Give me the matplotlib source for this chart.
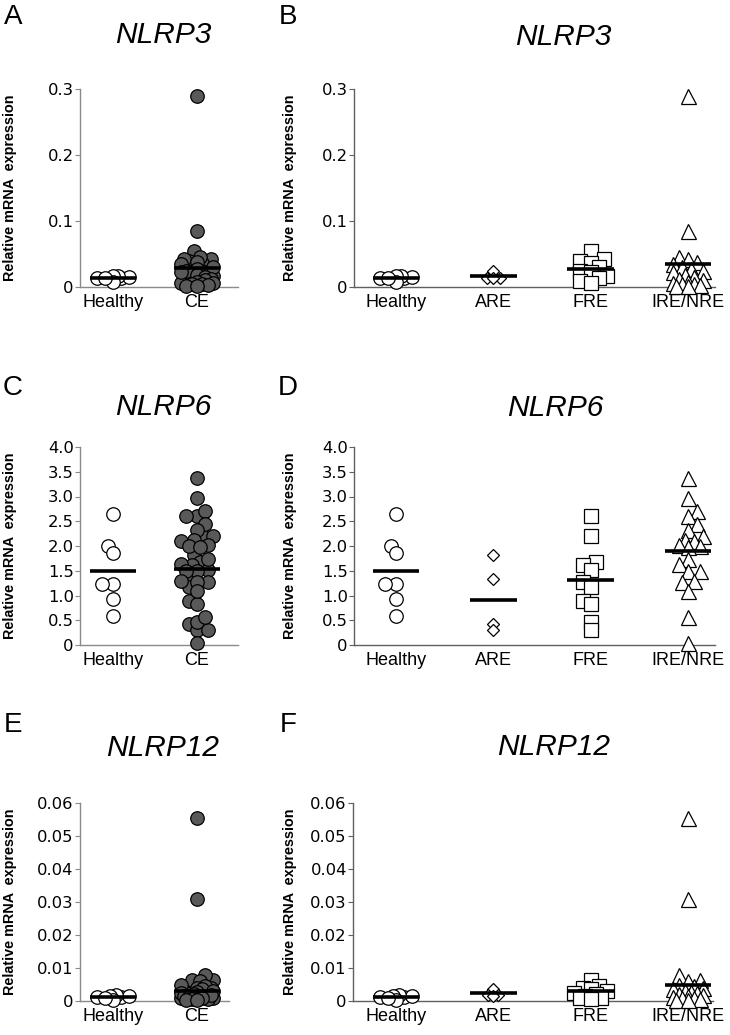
import numpy as np
import matplotlib
matplotlib.use("Agg")
from matplotlib import pyplot as plt

W, H = 730, 1035

# categories
groups_2 = ["Healthy", "CE"]
groups_4 = ["Healthy", "ARE", "FRE", "IRE/NRE"]

# NLRP3 relative expression
nlrp3_healthy = [0.014, 0.015, 0.017, 0.014, 0.016, 0.007, 0.013]
nlrp3_are = [0.025, 0.014, 0.014, 0.013]
nlrp3_fre = [0.055, 0.042, 0.040, 0.037, 0.030, 0.024, 0.022, 0.017, 0.014, 0.009, 0.006]
nlrp3_ire = [0.290, 0.085, 0.045, 0.042, 0.038, 0.035, 0.030, 0.028, 0.025, 0.022, 0.018,
             0.015, 0.012, 0.010, 0.008, 0.006, 0.005, 0.004, 0.003, 0.002, 0.001]
nlrp3_bar_2 = [0.0130, 0.029]
nlrp3_bar_4 = [0.0140, 0.0168, 0.028, 0.0356]
nlrp3_ticks = [0, 0.1, 0.2, 0.3]
nlrp3_ticklabels = ["0", "0.1", "0.2", "0.3"]

# NLRP6
nlrp6_healthy = [2.65, 2.0, 1.85, 1.23, 1.23, 0.93, 0.58]
nlrp6_are = [1.82, 1.33, 0.42, 0.30]
nlrp6_fre = [2.6, 2.2, 1.68, 1.62, 1.52, 1.28, 1.18, 0.88, 0.82, 0.47, 0.30]
nlrp6_ire = [3.38, 2.97, 2.7, 2.6, 2.45, 2.33, 2.2, 2.13, 2.1, 2.03, 2.0,
             1.97, 1.73, 1.63, 1.5, 1.5, 1.3, 1.27, 1.1, 0.57, 0.05]
nlrp6_bar_2 = [1.50, 1.53]
nlrp6_bar_4 = [1.49, 0.91, 1.31, 1.89]
nlrp6_ticks = [0, 0.5, 1.0, 1.5, 2.0, 2.5, 3.0, 3.5, 4.0]
nlrp6_ticklabels = ["0", "0.5", "1.0", "1.5", "2.0", "2.5", "3.0", "3.5", "4.0"]

# NLRP12
nlrp12_healthy = [0.0012, 0.0015, 0.0018, 0.0013, 0.0016, 0.0003, 0.0010]
nlrp12_are = [0.0036, 0.0019, 0.0019, 0.0014]
nlrp12_fre = [0.0065, 0.0045, 0.0040, 0.0035, 0.0030, 0.0025, 0.0020, 0.0015, 0.0010, 0.0008, 0.0005]
nlrp12_ire = [0.0555, 0.0308, 0.0080, 0.0065, 0.0060, 0.0050, 0.0045, 0.0040, 0.0035, 0.0030, 0.0028,
              0.0025, 0.0020, 0.0018, 0.0015, 0.0012, 0.0010, 0.0008, 0.0006, 0.0004, 0.0003]
nlrp12_bar_2 = [0.0013, 0.0031]
nlrp12_bar_4 = [0.0013, 0.0023, 0.0030, 0.0047]
nlrp12_ticks = [0, 0.01, 0.02, 0.03, 0.04, 0.05, 0.06]
nlrp12_ticklabels = ["0", "0.01", "0.02", "0.03", "0.04", "0.05", "0.06"]

genes = ["NLRP3", "NLRP6", "NLRP12"]
letters_left = ["A", "C", "E"]
letters_right = ["B", "D", "F"]


def px_rect(l, r, t, b):
    return [l / W, 1 - b / H, (r - l) / W, (b - t) / H]


def swarm_offsets(y_px, d, gap, max_w):
    # beeswarm limited to a band of +-max_w pixels; overlaps allowed when full
    placed = []
    offs = np.zeros(len(y_px))
    step = d * 0.2
    nmax = int(max_w / step)
    for n, i in enumerate(np.argsort(y_px)):
        cands = [0.0]
        for k in range(1, nmax + 1):
            pair = [k * step, -k * step]
            cands += pair if n % 2 == 0 else pair[::-1]
        best, best_d = 0.0, -1
        for c in cands:
            dmin = min([np.hypot(c - px, y_px[i] - py) for px, py in placed] or [1e9])
            if dmin >= gap * d:
                best = c
                break
            if dmin > best_d + 0.5:
                best, best_d = c, dmin
        offs[i] = best
        placed.append((best, y_px[i]))
    return offs


def draw_group(ax, pos, vals, ylim, h_px, x_px_unit, marker, ms_px, fc, gap=0.62, max_w=17):
    vals = np.asarray(vals)
    y_px = (vals - ylim[0]) / (ylim[1] - ylim[0]) * h_px
    offs = swarm_offsets(y_px, ms_px, gap, max_w)
    x = pos + offs / x_px_unit
    ax.plot(x, vals, linestyle="none", marker=marker, ms=ms_px * 0.72, mfc=fc,
            mec="black", mew=0.9, clip_on=False, zorder=3)


def style_axes(ax, ticks, ticklabels, ylim, xlim, spine_col):
    for s in ["top", "right"]:
        ax.spines[s].set_visible(False)
    for s in ["left", "bottom"]:
        ax.spines[s].set_color(spine_col)
        ax.spines[s].set_linewidth(1.0)
    ax.set_ylim(ylim)
    ax.set_xlim(xlim)
    ax.set_yticks(ticks)
    ax.set_yticklabels(ticklabels, fontsize=11.8, family="DejaVu Sans")
    ax.tick_params(axis="y", direction="out", length=3.5, width=0.8, color=spine_col, pad=1)
    ax.tick_params(axis="x", length=0, pad=5)


fig = plt.figure(figsize=(W / 100, H / 100), dpi=100)

rows = [(89, 287), (447, 645), (803, 1001)]
left_right_end = [238, 238, 229]
right_rect = [(354, 715), (354, 715), (353, 713)]
title_y_left = [35, 407, 748]
title_y_right = [37, 408, 747]
title_x_right = [563, 555, 554]
letter_y = [17, 388, 725]

data = [
    (nlrp3_healthy, nlrp3_are, nlrp3_fre, nlrp3_ire, nlrp3_bar_2, nlrp3_bar_4, nlrp3_ticks, nlrp3_ticklabels),
    (nlrp6_healthy, nlrp6_are, nlrp6_fre, nlrp6_ire, nlrp6_bar_2, nlrp6_bar_4, nlrp6_ticks, nlrp6_ticklabels),
    (nlrp12_healthy, nlrp12_are, nlrp12_fre, nlrp12_ire, nlrp12_bar_2, nlrp12_bar_4, nlrp12_ticks, nlrp12_ticklabels),
]

xfont = dict(family=["Liberation Sans", "DejaVu Sans"], size=13)
ylab = "Relative mRNA  expression"

for r, (healthy, are, fre, ire, bar2, bar4, ticks, tlabels) in enumerate(data):
    top, bot = rows[r]
    h_px = bot - top
    ylim = (ticks[0], ticks[-1])
    ce = list(are) + list(fre) + list(ire)

    # left panel: Healthy vs CE
    l, rr = 80, left_right_end[r]
    unit = 84.0
    ax = fig.add_axes(px_rect(l, rr, top, bot))
    xlim = ((l - 113) / unit, (rr - 113) / unit)
    style_axes(ax, ticks, tlabels, ylim, xlim, "#8a8a8a")
    draw_group(ax, 0, healthy, ylim, h_px, unit, "o", 13.5, "white")
    draw_group(ax, 1, ce, ylim, h_px, unit, "o", 13.5, "#595959")
    for i, b in enumerate(bar2):
        ax.hlines(b, i - 0.27, i + 0.27, color="black", lw=2.6, zorder=4)
    ax.set_xticks(range(len(groups_2)))
    ax.set_xticklabels(groups_2, **xfont)
    fig.text(163 / W, 1 - title_y_left[r] / H, genes[r], ha="center", va="center",
             fontsize=21.5, style="italic", family=["Liberation Sans", "DejaVu Sans"])
    fig.text(13 / W, 1 - letter_y[r] / H, letters_left[r], ha="center", va="center",
             fontsize=20, family=["Liberation Sans", "DejaVu Sans"])
    fig.text(10 / W, 1 - (top + bot) / 2 / H, ylab, rotation=90, ha="center", va="center",
             fontsize=10.4, fontweight="bold", family=["Liberation Sans", "DejaVu Sans"])

    # right panel: response groups
    l, rr = right_rect[r]
    unit = 97.3
    ax = fig.add_axes(px_rect(l, rr, top, bot))
    xlim = ((l - 396) / unit, (rr - 396) / unit)
    style_axes(ax, ticks, tlabels, ylim, xlim, "#606060")
    draw_group(ax, 0, healthy, ylim, h_px, unit, "o", 13.5, "white")
    draw_group(ax, 1, are, ylim, h_px, unit, "D", 8.5, "white", max_w=13)
    draw_group(ax, 2, fre, ylim, h_px, unit, "s", 13.5, "white")
    draw_group(ax, 3, ire, ylim, h_px, unit, "^", 15, "white")
    for i, b in enumerate(bar4):
        ax.hlines(b, i - 0.24, i + 0.24, color="black", lw=2.6, zorder=4)
    ax.set_xticks(range(len(groups_4)))
    ax.set_xticklabels(groups_4, **xfont)
    fig.text(title_x_right[r] / W, 1 - title_y_right[r] / H, genes[r], ha="center", va="center",
             fontsize=21.5, style="italic", family=["Liberation Sans", "DejaVu Sans"])
    fig.text(288 / W, 1 - letter_y[r] / H, letters_right[r], ha="center", va="center",
             fontsize=20, family=["Liberation Sans", "DejaVu Sans"])
    fig.text(290 / W, 1 - (top + bot) / 2 / H, ylab, rotation=90, ha="center", va="center",
             fontsize=10.4, fontweight="bold", family=["Liberation Sans", "DejaVu Sans"])

fig.savefig("out.png", dpi=100)
